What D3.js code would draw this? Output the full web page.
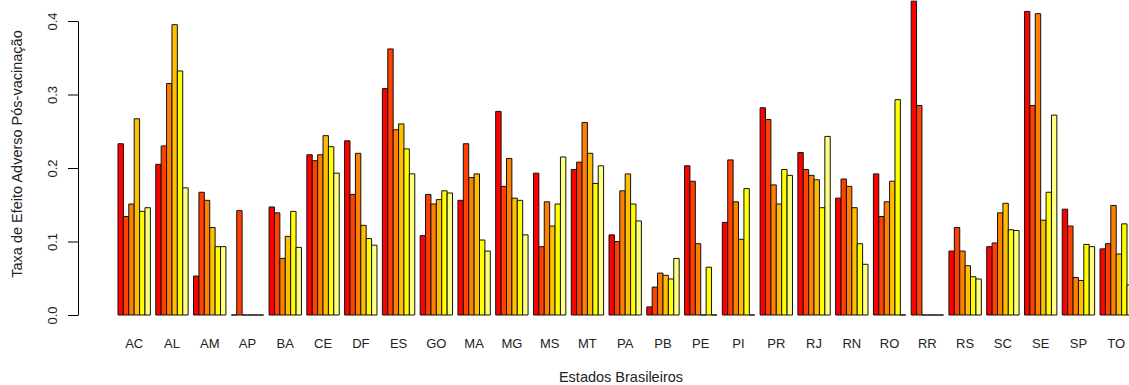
<!DOCTYPE html>
<html>
<head>
<meta charset="utf-8">
<script src="https://cdn.jsdelivr.net/npm/d3@7"></script>
<style>
  body { margin: 0; background: #fff; }
  svg { display: block; font-family: "Liberation Sans", Arial, sans-serif; }
</style>
</head>
<body>
<div id="chart"></div>
<script>
var svgWidth = 1129;
var svgHeight = 385;

// estados (grupos)
var estados = ["AC", "AL", "AM", "AP", "BA", "CE", "DF", "ES", "GO", "MA", "MG", "MS", "MT", "PA",
    "PB", "PE", "PI", "PR", "RJ", "RN", "RO", "RR", "RS", "SC", "SE", "SP", "TO"];

// heat.colors(6)
var cores = ["#FF0000", "#FF4000", "#FF8000", "#FFBF00", "#FFFF00", "#FFFF80"];

// taxas, uma serie por cor
var serie1 = [0.233, 0.205, 0.053, 0, 0.147, 0.218, 0.237, 0.308, 0.108, 0.156, 0.277, 0.193, 0.198, 0.109,
    0.011, 0.203, 0.126, 0.282, 0.221, 0.159, 0.192, 0.427, 0.087, 0.093, 0.413, 0.144, 0.090];
var serie2 = [0.134, 0.230, 0.167, 0.142, 0.139, 0.210, 0.164, 0.362, 0.164, 0.233, 0.175, 0.093, 0.208, 0.100,
    0.038, 0.182, 0.211, 0.266, 0.198, 0.185, 0.134, 0.285, 0.119, 0.098, 0.285, 0.121, 0.097];
var serie3 = [0.151, 0.315, 0.156, 0, 0.077, 0.218, 0.220, 0.252, 0.151, 0.187, 0.213, 0.154, 0.262, 0.169,
    0.057, 0.097, 0.154, 0.177, 0.190, 0.175, 0.154, 0, 0.087, 0.139, 0.410, 0.051, 0.149];
var serie4 = [0.267, 0.395, 0.119, 0, 0.107, 0.244, 0.122, 0.260, 0.157, 0.192, 0.159, 0.121, 0.220, 0.192,
    0.054, 0, 0.103, 0.151, 0.184, 0.146, 0.182, 0, 0.067, 0.152, 0.129, 0.047, 0.083];
var serie5 = [0.141, 0.332, 0.093, 0, 0.141, 0.229, 0.104, 0.226, 0.169, 0.102, 0.156, 0.151, 0.179, 0.151,
    0.049, 0.065, 0.172, 0.198, 0.146, 0.097, 0.293, 0, 0.052, 0.116, 0.167, 0.096, 0.124];
var serie6 = [0.146, 0.173, 0.093, 0, 0.092, 0.193, 0.095, 0.192, 0.166, 0.087, 0.109, 0.215, 0.203, 0.128,
    0.077, 0, 0, 0.190, 0.243, 0.069, 0, 0, 0.049, 0.115, 0.272, 0.093, 0.041];

var yTicks = [0, 0.1, 0.2, 0.3, 0.4];

var series = [serie1, serie2, serie3, serie4, serie5, serie6];

var svg = d3.select("#chart")
    .append("svg")
    .attr("width", svgWidth)
    .attr("height", svgHeight);

// R barplot: 6 barras de largura 1 + espaco 1 por grupo
var xGroup = d3.scaleBand()
    .domain(estados)
    .range([112.6, 1137.8])
    .paddingInner(1 / 7)
    .paddingOuter(1 / 7);

var xBar = d3.scaleBand()
    .domain(d3.range(series.length))
    .range([0, xGroup.bandwidth()]);

var yScale = d3.scaleLinear()
    .domain([0, 0.4])
    .range([315, 21]);

var rows = [];
estados.forEach(function (uf, i) {
    series.forEach(function (s, j) {
        rows.push({ uf: uf, k: j, v: s[i] });
    });
});

// path em vez de rect para que barras de altura zero aparecam como linha
svg.append("g")
    .selectAll("path")
    .data(rows)
    .enter()
    .append("path")
    .attr("d", function (d) {
        var x0 = xGroup(d.uf) + xBar(d.k);
        var x1 = x0 + xBar.bandwidth();
        var y0 = yScale(0);
        var y1 = yScale(d.v);
        return "M" + x0 + "," + y0 + "V" + y1 + "H" + x1 + "V" + y0 + "Z";
    })
    .attr("fill", d => cores[d.k])
    .attr("stroke", "#111")
    .attr("stroke-width", 1);

var leftAxis = d3.axisLeft(yScale)
    .tickValues(yTicks)
    .tickFormat(d3.format(".1f"))
    .tickSizeInner(10)
    .tickSizeOuter(0);

var yAxis = svg.append("g")
    .attr("transform", "translate(78, 0)")
    .call(leftAxis);

yAxis.select(".domain").attr("stroke", "#000");
yAxis.selectAll(".tick line").attr("stroke", "#000");
yAxis.selectAll(".tick text")
    .attr("transform", "rotate(-90)")
    .attr("x", 0)
    .attr("y", -21)
    .attr("dy", 0)
    .attr("text-anchor", "middle")
    .attr("font-size", "13px")
    .attr("font-family", "Liberation Sans, Arial, sans-serif")
    .attr("fill", "#222");

// nomes dos estados
svg.append("g")
    .selectAll("text")
    .data(estados)
    .enter()
    .append("text")
    .attr("x", d => xGroup(d) + xGroup.bandwidth() / 2)
    .attr("y", 348)
    .attr("text-anchor", "middle")
    .attr("font-size", "13px")
    .attr("fill", "#222")
    .text(d => d);

svg.append("text")
    .attr("x", 621)
    .attr("y", 382)
    .attr("text-anchor", "middle")
    .attr("font-size", "14.5px")
    .attr("fill", "#222")
    .text("Estados Brasileiros");

svg.append("text")
    .attr("transform", "translate(22, 154) rotate(-90)")
    .attr("text-anchor", "middle")
    .attr("font-size", "14.5px")
    .attr("fill", "#222")
    .text("Taxa de Efeito Adverso Pós-vacinação");
</script>
</body>
</html>
